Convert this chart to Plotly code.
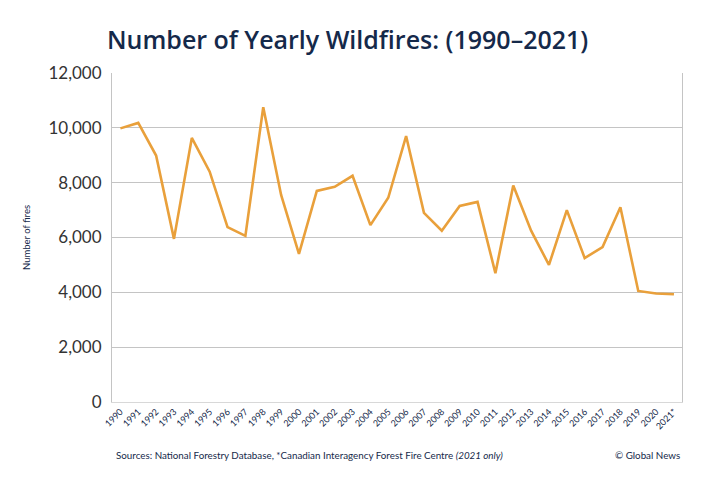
import plotly.graph_objects as go

# Yearly wildfire counts
years = list(range(1990, 2022))
year_labels = [str(y) for y in years[:-1]] + ["2021*"]
fires = [9980, 10180, 8990, 5950, 9630, 8400, 6380, 6060, 10750, 7550,
         5400, 7700, 7850, 8250, 6450, 7450, 9700, 6900, 6250, 7150,
         7300, 4700, 7900, 6250, 5000, 7000, 5250, 5650, 7100, 4050,
         3960, 3930]

y_ticks = [0, 2000, 4000, 6000, 8000, 10000, 12000]

navy = "#15294a"
orange = "#e9a03b"

# page body has an 8px margin, so the figure is drawn 8px smaller
W, H = 712, 472

fig = go.Figure()
fig.add_trace(go.Scatter(x=list(range(len(years))), y=fires, mode="lines",
                         line=dict(color=orange, width=2.6), hoverinfo="x+y"))

fig.update_layout(
    width=W, height=H,
    paper_bgcolor="white", plot_bgcolor="white",
    margin=dict(l=104, r=38, t=65, b=78),
    showlegend=False,
    font=dict(family="Lato, Open Sans, sans-serif", color=navy),
    title=dict(text="Number of Yearly Wildfires: (1990\u20132021)",
               x=99 / W, xanchor="left", y=1 - 32 / H, yanchor="middle",
               font=dict(size=25, color=navy, family="Open Sans, sans-serif",
                         weight=600)),
)

fig.update_xaxes(
    range=[-0.47, len(years) - 1 + 0.45],
    tickvals=list(range(len(years))), ticktext=year_labels,
    tickangle=-45, tickfont=dict(size=9, color=navy),
    showgrid=False, zeroline=False,
    showline=True, linecolor="#d8d8d8", linewidth=1, mirror=False,
    ticks="", ticklen=0,
)
fig.update_yaxes(
    range=[0, 12000], tickvals=y_ticks,
    ticktext=[f"{v:,}" for v in y_ticks],
    tickfont=dict(size=17, color="#333333"),
    showgrid=True, gridcolor="#c4c4c4", gridwidth=1,
    zeroline=False, showline=True, linecolor="#c4c4c4", linewidth=1,
    mirror=True, ticks="", ticklabelstandoff=6,
    title=dict(text="Number of fires", font=dict(size=9.5, color=navy),
               standoff=16),
)

plot_w = W - 104 - 38
plot_h = H - 65 - 78
foot_y = -(447 - 394) / plot_h
fig.add_annotation(
    text="Sources: National Forestry Database, *Canadian Interagency Forest Fire Centre <i>(2021 only)</i>",
    xref="paper", yref="paper", x=(106 - 104) / plot_w, y=foot_y,
    xanchor="left", yanchor="middle", showarrow=False,
    font=dict(size=9.8, color=navy))
fig.add_annotation(
    text="\u00a9 Global News",
    xref="paper", yref="paper", x=1.0, y=foot_y,
    xanchor="right", yanchor="middle", showarrow=False,
    font=dict(size=9.8, color=navy))

fig.write_html("out.html")
